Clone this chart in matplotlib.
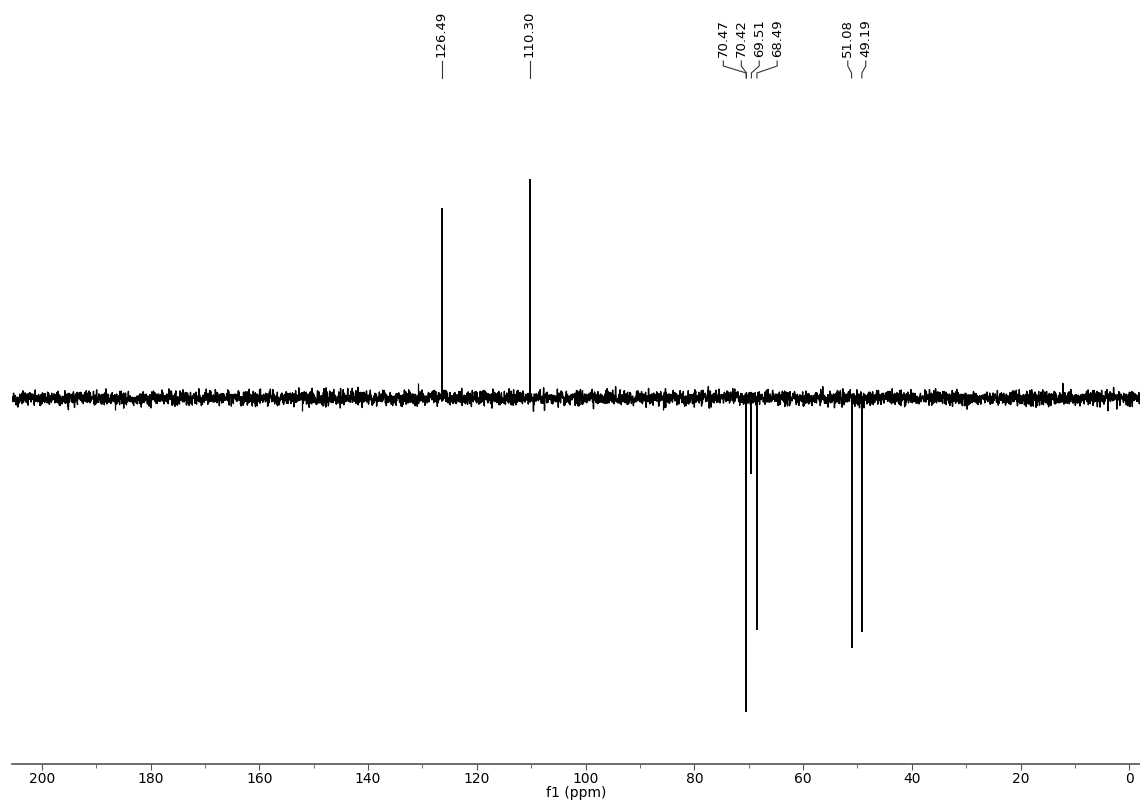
import numpy as np
import matplotlib
matplotlib.use('Agg')
import matplotlib.pyplot as plt
from matplotlib.transforms import blended_transform_factory

# 피크 위치(ppm)와 세기 (기준선 = 0)
peak_ppm = [126.49, 110.30, 70.47, 70.42, 69.51, 68.49, 51.08, 49.19]
peak_int = [190, 219, -314, -280, -76, -232, -250, -234]
# 라벨이 붙지 않은 작은 잡음 피크
minor_ppm = [130.86, 186.6, 152.1, 85.7]
minor_int = [15, -12, -13, -12]

xmin, xmax = 205.47, -1.95

fig = plt.figure(figsize=(11.4, 8.05), dpi=100)
W, H = 1140, 805
ax = fig.add_axes([12 / W, 1 - 764 / H, 1128 / W, (764 - 100) / H])

# 기준선 잡음 (고정 시드)
rng = np.random.default_rng(7)
x = np.linspace(xmin, xmax, 5000)
noise = rng.normal(0, 3.6, x.size)
ax.plot(x, noise, color='black', lw=1.0)

# 피크 그리기
ax.vlines(peak_ppm, 0, peak_int, color='black', lw=1.4)
ax.vlines(minor_ppm, 0, minor_int, color='black', lw=0.9)

ax.set_xlim(xmin, xmax)
ax.set_ylim(-366, 298)
for s in ['left', 'right', 'top']:
    ax.spines[s].set_visible(False)
ax.spines['bottom'].set_color('#555555')
ax.spines['bottom'].set_linewidth(1.2)
ax.set_yticks([])
ax.set_xticks(np.arange(0, 201, 20))
ax.set_xticks(np.arange(0, 201, 10), minor=True)
ax.tick_params(axis='x', which='major', length=4, color='#555555', labelsize=10, pad=2)
ax.tick_params(axis='x', which='minor', length=3, color='#555555')
ax.set_xlabel('f1 (ppm)', fontsize=10, labelpad=0)

# 피크 라벨 (겹치면 퍼뜨림)
sep = 3.3
order = sorted(range(len(peak_ppm)), key=lambda i: -peak_ppm[i])
groups = []
for i in order:
    if groups and peak_ppm[groups[-1][-1]] - peak_ppm[i] < sep:
        groups[-1].append(i)
    else:
        groups.append([i])
label_x = {}
for g in groups:
    c = np.mean([peak_ppm[i] for i in g])
    n = len(g)
    for k, i in enumerate(g):
        label_x[i] = c + (n - 1) / 2 * sep - k * sep

tr = blended_transform_factory(ax.transData, fig.transFigure)
fy = lambda p: 1 - p / H
for i in range(len(peak_ppm)):
    px, lx = peak_ppm[i], label_x[i]
    ax.plot([lx, lx, px, px], [fy(61), fy(66), fy(73), fy(78)], transform=tr,
            color='#333333', lw=0.8, clip_on=False)
    ax.text(lx, fy(57), f'{px:.2f}', transform=tr, rotation=90,
            ha='center', va='bottom', fontsize=9.5)

fig.savefig('out.png', dpi=100)
